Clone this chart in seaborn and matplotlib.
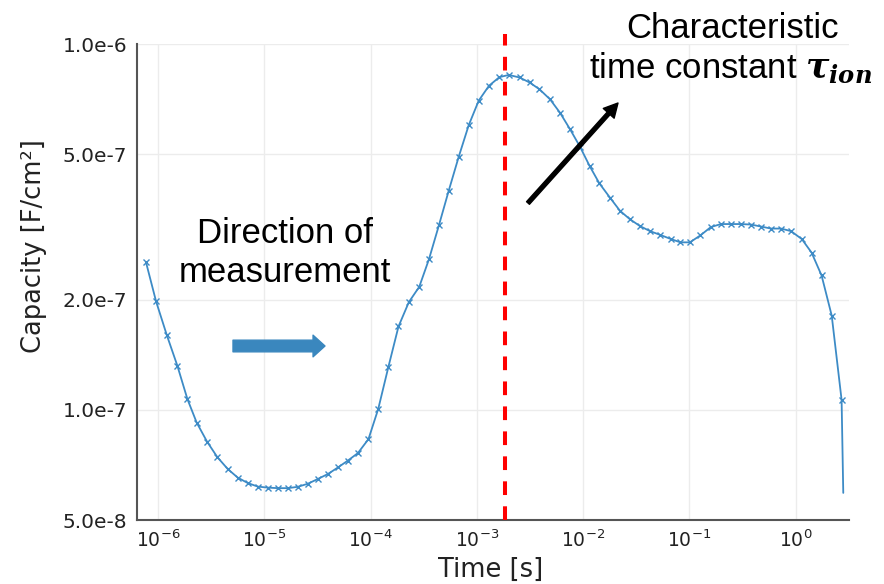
import matplotlib
matplotlib.use("Agg")
import matplotlib.pyplot as plt
import pandas as pd
import seaborn as sns
from matplotlib.patches import FancyArrowPatch
from matplotlib.ticker import FixedLocator, FixedFormatter, NullLocator

# ---------------- data ----------------
time_s = [7.71e-7, 9.58e-7, 1.21e-6, 1.52e-6, 1.89e-6, 2.31e-6, 2.89e-6, 3.61e-6,
          4.53e-6, 5.62e-6, 6.98e-6, 8.67e-6, 1.08e-5, 1.34e-5, 1.66e-5, 2.06e-5,
          2.56e-5, 3.18e-5, 3.97e-5, 4.93e-5, 6.12e-5, 7.60e-5, 9.55e-5, 1.18e-4,
          1.47e-4, 1.83e-4, 2.29e-4, 2.87e-4, 3.54e-4, 4.40e-4, 5.43e-4, 6.75e-4,
          8.38e-4, 1.04e-3, 1.30e-3, 1.63e-3, 2.00e-3, 2.52e-3, 3.13e-3, 3.88e-3,
          4.88e-3, 6.05e-3, 7.52e-3, 9.33e-3, 1.15e-2, 1.42e-2, 1.79e-2, 2.22e-2,
          2.75e-2, 3.42e-2, 4.25e-2, 5.27e-2, 6.70e-2, 8.22e-2, 0.101, 0.127,
          0.159, 0.198, 0.245, 0.305, 0.379, 0.471, 0.585, 0.726, 0.902, 1.14,
          1.41, 1.75, 2.18, 2.70, 2.80]

capacity = [2.53e-7, 1.98e-7, 1.60e-7, 1.32e-7, 1.07e-7, 9.23e-8, 8.19e-8, 7.43e-8,
            6.89e-8, 6.53e-8, 6.31e-8, 6.17e-8, 6.13e-8, 6.11e-8, 6.11e-8, 6.16e-8,
            6.28e-8, 6.47e-8, 6.68e-8, 6.96e-8, 7.27e-8, 7.62e-8, 8.32e-8, 1.006e-7,
            1.31e-7, 1.69e-7, 1.97e-7, 2.17e-7, 2.58e-7, 3.20e-7, 3.97e-7, 4.92e-7,
            6.00e-7, 7.00e-7, 7.69e-7, 8.12e-7, 8.23e-7, 8.10e-7, 7.85e-7, 7.52e-7,
            7.06e-7, 6.49e-7, 5.85e-7, 5.24e-7, 4.64e-7, 4.16e-7, 3.80e-7, 3.50e-7,
            3.32e-7, 3.18e-7, 3.08e-7, 3.01e-7, 2.93e-7, 2.87e-7, 2.87e-7, 3.00e-7,
            3.16e-7, 3.22e-7, 3.22e-7, 3.22e-7, 3.21e-7, 3.17e-7, 3.13e-7, 3.13e-7,
            3.08e-7, 2.93e-7, 2.69e-7, 2.33e-7, 1.81e-7, 1.065e-7, 5.93e-8]

tau_ion_s = 1.85e-3

x_ticks = [1e-6, 1e-5, 1e-4, 1e-3, 1e-2, 1e-1, 1e0]
x_tick_labels = [r"$10^{-6}$", r"$10^{-5}$", r"$10^{-4}$", r"$10^{-3}$",
                 r"$10^{-2}$", r"$10^{-1}$", r"$10^{0}$"]
y_ticks = [5e-8, 1e-7, 2e-7, 5e-7, 1e-6]
y_tick_labels = ["5.0e-8", "1.0e-7", "2.0e-7", "5.0e-7", "1.0e-6"]
x_limits = (6.34e-7, 3.17)
y_limits = (5e-8, 1e-6)

x_label = "Time [s]"
y_label = "Capacity [F/cm²]"

# ---------------- style ----------------
sns.set_theme(style="white")
plt.rcParams["font.family"] = ["DejaVu Sans"]
plt.rcParams["mathtext.fontset"] = "dejavusans"
plt.rcParams["mathtext.rm"] = "DejaVu Serif:bold:italic"
plt.rcParams["mathtext.it"] = "DejaVu Serif:bold:italic"
plt.rcParams["mathtext.bf"] = "DejaVu Serif:bold:italic"

W, H = 884, 584
fig = plt.figure(figsize=(W / 100, H / 100), dpi=100, facecolor="white")
ax = fig.add_axes([137 / W, 1 - 520 / H, 712 / W, 476 / H])

df = pd.DataFrame({"time": time_s, "capacity": capacity})
line_color = "#3d8bc6"
sns.lineplot(data=df, x="time", y="capacity", ax=ax, color=line_color,
             linewidth=1.3, marker="x", markersize=5, markeredgewidth=1.0,
             markeredgecolor=line_color, estimator=None, sort=False,
             markevery=list(range(len(time_s) - 1)))

ax.set_xscale("log")
ax.set_yscale("log")
ax.set_xlim(*x_limits)
ax.set_ylim(*y_limits)

ax.xaxis.set_major_locator(FixedLocator(x_ticks))
ax.xaxis.set_major_formatter(FixedFormatter(x_tick_labels))
ax.xaxis.set_minor_locator(NullLocator())
ax.yaxis.set_major_locator(FixedLocator(y_ticks))
ax.yaxis.set_major_formatter(FixedFormatter(y_tick_labels))
ax.yaxis.set_minor_locator(NullLocator())

ax.grid(True, which="major", color="#ececec", linewidth=1.0)
ax.set_axisbelow(True)
for side in ("top", "right"):
    ax.spines[side].set_visible(False)
for side in ("left", "bottom"):
    ax.spines[side].set_color("#555555")
    ax.spines[side].set_linewidth(1.5)
ax.tick_params(axis="both", direction="in", length=4.5, width=1.2,
               color="#555555", labelcolor="#222222", pad=7)
ax.tick_params(axis="x", labelsize=13.5)
ax.tick_params(axis="y", labelsize=14.5)

ax.set_xlabel(x_label, fontsize=18.5, color="#222222", va="center")
ax.set_ylabel(y_label, fontsize=18.5, color="#222222", va="center")
ax.xaxis.set_label_coords(0.496, -0.105)
ax.yaxis.set_label_coords(-0.145, 0.576)

# characteristic time constant marker
ax.axvline(tau_ion_s, ymin=0, ymax=1.02, color="#ff0000", linewidth=2.9,
           dashes=(3.4, 2.8), clip_on=False, zorder=5)

# ---------------- annotations ----------------
afont = "Liberation Sans"
fig.text(285 / W, 1 - 234 / H, "Direction of", ha="center", va="center",
         fontsize=25, family=afont, color="black")
fig.text(285 / W, 1 - 272 / H, "measurement", ha="center", va="center",
         fontsize=25, family=afont, color="black")
fig.text(733 / W, 1 - 28 / H, "Characteristic", ha="center", va="center",
         fontsize=25, family=afont, color="black")
fig.text(731 / W, 1 - 68 / H, r"time constant $\tau_{ion}$", ha="center",
         va="center", fontsize=25, family=afont, color="black",
         math_fontfamily="custom")

inch = fig.dpi_scale_trans
blue_arrow = FancyArrowPatch((233 / 100, (H - 346) / 100), (325 / 100, (H - 346) / 100),
                             transform=inch, arrowstyle="simple,head_length=8.6,head_width=15.6,tail_width=8.4",
                             mutation_scale=1, color="#3a87be", shrinkA=0, shrinkB=0)
fig.patches.append(blue_arrow)
black_arrow = FancyArrowPatch((528 / 100, (H - 203) / 100), (618 / 100, (H - 103) / 100),
                              transform=inch, arrowstyle="simple,head_length=10,head_width=10.5,tail_width=2.8",
                              mutation_scale=1, color="black", shrinkA=0, shrinkB=0)
fig.patches.append(black_arrow)

fig.savefig("out.png", dpi=100, facecolor="white")
